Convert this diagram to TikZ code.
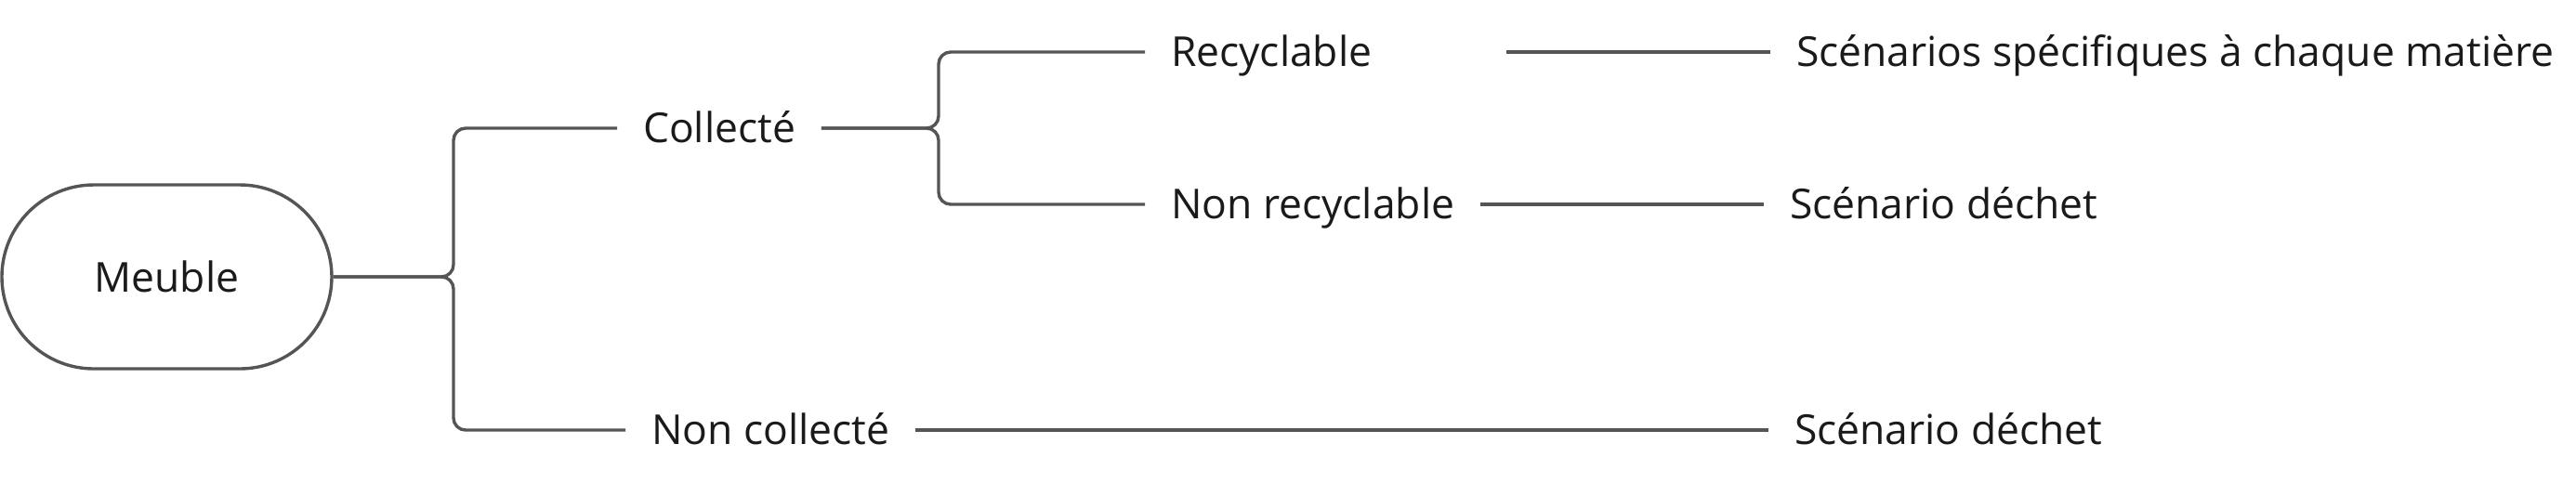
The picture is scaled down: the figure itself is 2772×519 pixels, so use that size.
\documentclass[tikz,border=0pt]{standalone}
\usepackage{fontspec}
\setmainfont{Open Sans}
\definecolor{linegray}{HTML}{555555}
\definecolor{textdark}{HTML}{1A1A1A}
\tikzset{
  lbl/.style={anchor=west, inner xsep=6.8pt, inner ysep=0pt, text height=7.75pt, text depth=0pt,
    text=textdark, font=\fontsize{11.1pt}{13pt}\selectfont},
  rootbox/.style={draw=linegray, line width=0.85pt, minimum width=88.75pt, minimum height=49.5pt,
    rounded corners=24.75pt, inner sep=0pt, text=textdark, font=\fontsize{11.1pt}{13pt}\selectfont},
  conn/.style={draw=linegray, line width=0.85pt, rounded corners=3.25pt},
}
\begin{document}
\begin{tikzpicture}[x=0.25pt, y=-0.25pt]
\useasboundingbox (0,0) rectangle (2772,519);
% root
\node[rootbox] (meuble) at (179.5,298) {Meuble};
% junction columns
\coordinate (j1) at (488,298);
\coordinate (j2) at (1010,138);
% level 1
\node[lbl] (collecte) at (664,138) {Collecté};
\node[lbl] (noncoll) at (673,463) {Non collecté};
% level 2
\node[lbl, text width=83.15pt, align=left] (recy) at (1232,56) {Recyclable};
\node[lbl] (nonrecy) at (1232,220) {Non recyclable};
% level 3
\node[lbl] (scen1) at (1905,56) {Scénarios spécifiques à chaque matière};
\node[lbl] (scen2) at (1898,220) {Scénario déchet};
\node[lbl] (scen3) at (1903,463) {Scénario déchet};
% connectors
\draw[conn] (meuble.east) -| (collecte.west -| j1) -- (collecte.west);
\draw[conn] (meuble.east) -| (noncoll.west -| j1) -- (noncoll.west);
\draw[conn] (collecte.east) -| (recy.west -| j2) -- (recy.west);
\draw[conn] (collecte.east) -| (nonrecy.west -| j2) -- (nonrecy.west);
\draw[conn] (recy.east) -- (scen1.west);
\draw[conn] (nonrecy.east) -- (scen2.west);
\draw[conn] (noncoll.east) -- (scen3.west);
\end{tikzpicture}
\end{document}
